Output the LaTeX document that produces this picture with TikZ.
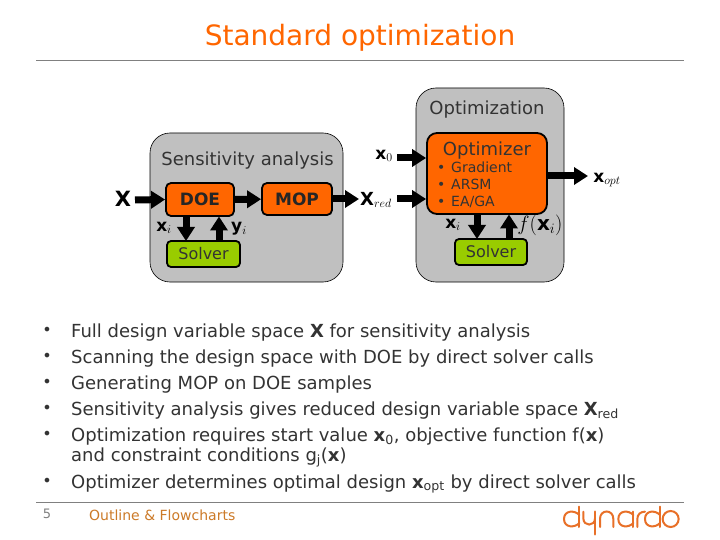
\documentclass[tikz,border=0pt]{standalone}
\usepackage{fontspec}
\setmainfont{DejaVu Sans}
\usetikzlibrary{arrows.meta}
\definecolor{orng}{RGB}{255,102,0}
\definecolor{lgreen}{RGB}{153,204,0}
\definecolor{grayb}{RGB}{192,192,192}
\definecolor{txt}{RGB}{51,51,51}
\definecolor{foot}{RGB}{204,122,40}
\definecolor{logoc}{RGB}{232,112,40}
\newcommand{\fsz}[1]{\fontsize{#1}{#1}\selectfont}
\tikzset{
  px/.style={x=1pt,y=-1pt},
  outer/.style={draw=black,fill=grayb,rounded corners=20pt,line width=0.6pt},
  orbox/.style={draw=black,fill=orng,rounded corners=5pt,line width=1.8pt},
  grbox/.style={draw=black,fill=lgreen,rounded corners=4pt,line width=1.8pt},
  flow/.style={line width=7pt,-{Triangle[length=14pt,width=17pt]}},
  lab/.style={font=\fsz{18},text=txt,inner sep=0pt},
  mathl/.style={font=\fsz{17},inner sep=0pt},
  logostroke/.style={draw=logoc,line width=2pt,line cap=round},
}
\begin{document}
\begin{tikzpicture}[px]
\useasboundingbox (0,0) rectangle (720,540);
\fill[white] (0,0) rectangle (720,540);
% header
\node[inner sep=0pt,text=orng,font=\fsz{28}] (title) at (360,38) {Standard optimization};
\coordinate (hl) at (36,60); \coordinate (hr) at (684,60);
\draw[gray,line width=0.6pt] (hl) -- (hr);
% containers
\node[outer,minimum width=193pt,minimum height=149pt,inner sep=0pt] (sens) at (246.5,207.5) {};
\node[outer,minimum width=148pt,minimum height=194pt,inner sep=0pt] (opt) at (490,185) {};
\node[lab] (senst) at (247.5,160.5) {Sensitivity analysis};
\node[lab] (optt) at (487,110) {Optimization};
% boxes
\node[orbox,minimum width=68pt,minimum height=33pt,inner sep=0pt,font=\fsz{17}\bfseries,text=black!85] (doe) at (200,199.5) {DOE};
\node[orbox,minimum width=70pt,minimum height=32pt,inner sep=0pt,font=\fsz{17}\bfseries,text=black!85] (mop) at (297,199) {MOP};
\node[grbox,minimum width=73pt,minimum height=26pt,inner sep=0pt,font=\fsz{16},text=txt] (s1) at (203.5,254) {Solver};
\node[orbox,rounded corners=10pt,minimum width=120pt,minimum height=81pt,inner sep=0pt] (optz) at (487,173.5) {};
\node[grbox,minimum width=72pt,minimum height=26pt,inner sep=0pt,font=\fsz{16},text=txt] (s2) at (491,252) {Solver};
\node[lab] (ozt) at (487,151) {Optimizer};
\node[inner sep=0pt,anchor=base west,font=\fsz{14},text=txt] (o1) at (437,173) {•};
\node[inner sep=0pt,anchor=base west,font=\fsz{14},text=txt] (o1t) at (451,173) {Gradient};
\node[inner sep=0pt,anchor=base west,font=\fsz{14},text=txt] (o2) at (437,190) {•};
\node[inner sep=0pt,anchor=base west,font=\fsz{14},text=txt] (o2t) at (451,190) {ARSM};
\node[inner sep=0pt,anchor=base west,font=\fsz{14},text=txt] (o3) at (437,207) {•};
\node[inner sep=0pt,anchor=base west,font=\fsz{14},text=txt] (o3t) at (451,207) {EA/GA};
% free ends
\coordinate (xin) at (135,200);
\coordinate (xout) at (359,199);
\coordinate (x0s) at (397,158);
\coordinate (xrs) at (397,199);
\coordinate (xo) at (588,176);
\coordinate (a1) at (186,216.5); \coordinate (a1e) at (186,241);
\coordinate (a2) at (219,241); \coordinate (a2e) at (219,216.5);
\coordinate (a3) at (477,214.5); \coordinate (a3e) at (477,239);
\coordinate (a4) at (509,239); \coordinate (a4e) at (509,214.5);
% arrows
\draw[flow] (xin) -- (doe.west);
\draw[flow] (doe) -- (mop);
\draw[flow] (mop.east) -- (xout);
\draw[flow] (x0s) -- (x0s-|optz.west);
\draw[flow] (xrs) -- (xrs-|optz.west);
\draw[flow] (xo-|optz.east) -- (xo);
\draw[flow] (a1) -- (a1e);
\draw[flow] (a2) -- (a2e);
\draw[flow] (a3) -- (a3e);
\draw[flow] (a4) -- (a4e);
% math labels
\node[mathl,font=\fsz{21}] (lx) at (123,199) {$\mathbf{X}$};
\node[mathl] (lxi) at (164,228) {$\mathbf{x}_i$};
\node[mathl] (lyi) at (239,229) {$\mathbf{y}_i$};
\node[mathl] (lx0) at (384,156) {$\mathbf{x}_0$};
\node[mathl,font=\fsz{18}] (lxr) at (376,200) {$\mathbf{X}_{red}$};
\node[mathl] (lxo) at (607,180) {$\mathbf{x}_{opt}$};
\node[mathl] (lxi2) at (453,225) {$\mathbf{x}_i$};
\node[mathl,font=\fsz{20}] (lf) at (540,225) {$f(\mathbf{x}_i)$};
% bullets
\foreach \y/\t in {331/{Full design variable space \textbf{X} for sensitivity analysis},
 357/{Scanning the design space with DOE by direct solver calls},
 383/{Generating MOP on DOE samples},
 409/{Sensitivity analysis gives reduced design variable space \textbf{X}\textsubscript{red}},
 435/{Optimization requires start value \textbf{x}\textsubscript{0}, objective function f(\textbf{x})},
 482/{Optimizer determines optimal design \textbf{x}\textsubscript{opt} by direct solver calls}}{
  \node[inner sep=0pt,text=txt,font=\fsz{16}] at (47,\y) {•};
  \node[inner sep=0pt,text=txt,anchor=base west,font=\fsz{18}] at (71,\y+6) {\t};
}
\node[inner sep=0pt,text=txt,anchor=base west,font=\fsz{18}] (cont) at (71,461) {and constraint conditions g\textsubscript{j}(\textbf{x})};
% footer
\coordinate (fl) at (36,502); \coordinate (fr) at (684,502);
\draw[gray,line width=0.6pt] (fl) -- (fr);
\node[inner sep=0pt,text=gray,font=\fsz{13}] (pg) at (47,514) {5};
\node[inner sep=0pt,anchor=west,text=foot,font=\fsz{14}] (ft) at (89,515) {Outline \& Flowcharts};
% logo
\begin{scope}[shift={(550,495)},x=0.3333pt,y=-0.3333pt]
\draw[logostroke] (88,60) .. controls (75,45) and (42,45) .. (42,72) .. controls (42,99) and (75,99) .. (88,84);
\draw[logostroke] (88,35) -- (88,96);
\draw[logostroke] (100,50) -- (100,70) .. controls (100,95) and (135,95) .. (135,70);
\draw[logostroke,line width=2.6pt] (135,50) -- (135,118);
\draw[logostroke] (150,96) -- (150,72) .. controls (150,42) and (190,42) .. (190,72) -- (190,96);
\draw[logostroke] (250,60) .. controls (237,45) and (205,45) .. (205,72) .. controls (205,99) and (237,99) .. (250,84);
\draw[logostroke] (250,50) -- (250,96);
\draw[logostroke] (262,96) -- (262,72) .. controls (262,58) and (272,50) .. (285,50);
\draw[logostroke] (330,60) .. controls (317,45) and (285,45) .. (285,72) .. controls (285,99) and (317,99) .. (330,84);
\draw[logostroke] (330,35) -- (330,96);
\draw[logostroke] (362,72) circle[radius=24];
\end{scope}
\end{tikzpicture}
\end{document}
